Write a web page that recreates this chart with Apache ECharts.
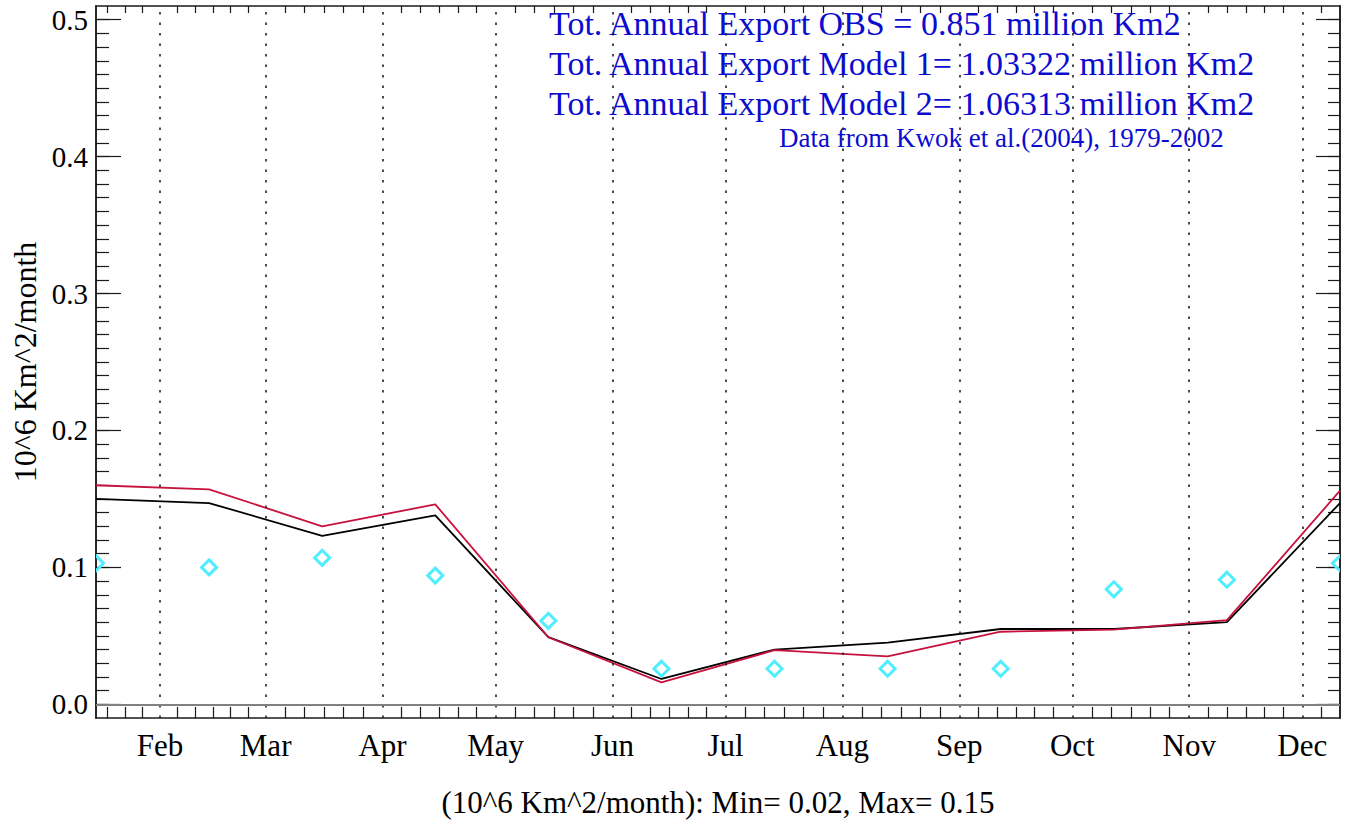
<!DOCTYPE html>
<html>
<head>
<meta charset="utf-8">
<script src="https://cdn.jsdelivr.net/npm/echarts@6/dist/echarts.min.js"></script>
<style>
  html, body { margin: 0; padding: 0; background: #ffffff; }
  #chart { width: 1351px; height: 825px; }
</style>
</head>
<body>
<div id="chart"></div>
<script>
// Month labels and the day-of-year (0-based) on which each month starts
const monthNames = ['Feb', 'Mar', 'Apr', 'May', 'Jun', 'Jul', 'Aug', 'Sep', 'Oct', 'Nov', 'Dec'];
const monthStartDays = [31, 59, 90, 120, 151, 181, 212, 243, 273, 304, 334];

// Monthly sample positions (day of year), one per month Jan..Dec
const sampleDays = [14, 44, 74, 104, 134, 164, 194, 224, 254, 284, 314, 344];

// Monthly ice-area export, 10^6 km^2 / month
const model1Export = [0.150, 0.147, 0.123, 0.138, 0.049, 0.0185, 0.040, 0.045, 0.055, 0.055, 0.060, 0.147];
const model2Export = [0.160, 0.157, 0.130, 0.146, 0.049, 0.016, 0.0395, 0.035, 0.053, 0.0545, 0.0615, 0.156];
const obsExport    = [0.103, 0.100, 0.107, 0.094, 0.061, 0.026, 0.026, 0.026, 0.026, 0.084, 0.091, 0.103];

// Y tick labels
const yTickValues = [0.0, 0.1, 0.2, 0.3, 0.4, 0.5];

const X_MIN = 14, X_MAX = 344;
const Y_MIN = -0.01, Y_MAX = 0.51;

// Minor x ticks: each month split into six parts, extended past the first/last month start
const xMinorTicks = [];
(function () {
  const n = monthStartDays.length;
  const stepFirst = (monthStartDays[1] - monthStartDays[0]) / 6;
  for (let k = 1; monthStartDays[0] - k * stepFirst >= X_MIN - 1e-9; k++) {
    xMinorTicks.push(monthStartDays[0] - k * stepFirst);
  }
  for (let i = 0; i < n - 1; i++) {
    const a = monthStartDays[i], b = monthStartDays[i + 1];
    for (let k = 1; k < 6; k++) xMinorTicks.push(a + k * (b - a) / 6);
  }
  const stepLast = (monthStartDays[n - 1] - monthStartDays[n - 2]) / 6;
  for (let k = 1; monthStartDays[n - 1] + k * stepLast < X_MAX - 1e-9; k++) {
    xMinorTicks.push(monthStartDays[n - 1] + k * stepLast);
  }
})();

// Minor y ticks every 0.01
const yMinorTicks = [];
for (let k = 0; k <= 50; k++) yMinorTicks.push(k / 100);

const pairs = (vals) => sampleDays.map((d, i) => [d, vals[i]]);

const FONT = '"Liberation Serif", "DejaVu Serif", serif';
const TEXT_BLUE = '#0c0cd0';

const chart = echarts.init(document.getElementById('chart'), null, { renderer: 'svg' });

const baseX = {
  type: 'value', min: X_MIN, max: X_MAX,
  splitLine: { show: false },
  axisLine: { show: true, onZero: false, lineStyle: { color: '#1a1a1a', width: 1.5 } }
};
const baseY = {
  type: 'value', min: Y_MIN, max: Y_MAX,
  splitLine: { show: false },
  axisLabel: { show: false },
  axisLine: { show: true, onZero: false, lineStyle: { color: '#1a1a1a', width: 1.5 } }
};

chart.setOption({
  animation: false,
  backgroundColor: '#ffffff',
  grid: { left: 96, right: 11, top: 6, bottom: 107, outerBoundsMode: 'none', containLabel: false },
  xAxis: [
    Object.assign({}, baseX, {
      position: 'bottom',
      name: '(10^6 Km^2/month): Min= 0.02, Max= 0.15',
      nameLocation: 'middle',
      nameGap: 84,
      nameTextStyle: { fontFamily: FONT, fontSize: 31, color: '#000', verticalAlign: 'middle' },
      axisTick: { show: true, inside: true, length: 11, customValues: xMinorTicks,
                  lineStyle: { color: '#1a1a1a', width: 1.2 } },
      axisLabel: {
        show: true, customValues: monthStartDays, margin: 27, verticalAlign: 'middle',
        fontFamily: FONT, fontSize: 31, color: '#000',
        formatter: (v) => monthNames[monthStartDays.indexOf(Math.round(v))] || ''
      }
    }),
    Object.assign({}, baseX, {
      position: 'top',
      axisTick: { show: true, inside: true, length: 7, customValues: xMinorTicks,
                  lineStyle: { color: '#1a1a1a', width: 1.2 } },
      axisLabel: { show: false }
    })
  ],
  yAxis: [
    Object.assign({}, baseY, {
      position: 'left',
      name: '10^6 Km^2/month',
      nameLocation: 'middle',
      nameGap: 70,
      nameRotate: 90,
      nameTextStyle: { fontFamily: FONT, fontSize: 32, color: '#000', verticalAlign: 'middle', align: 'center' },
      axisTick: { show: true, inside: true, length: 25, customValues: yTickValues,
                  lineStyle: { color: '#1a1a1a', width: 1.2 } },
      axisLabel: {
        show: true, customValues: yTickValues, margin: 8,
        fontFamily: FONT, fontSize: 29, color: '#000',
        formatter: (v) => v.toFixed(1)
      }
    }),
    Object.assign({}, baseY, {
      position: 'left',
      axisTick: { show: true, inside: true, length: 13, customValues: yMinorTicks,
                  lineStyle: { color: '#1a1a1a', width: 1.2 } }
    }),
    Object.assign({}, baseY, {
      position: 'right',
      axisTick: { show: true, inside: true, length: 24, customValues: yTickValues,
                  lineStyle: { color: '#1a1a1a', width: 1.2 } }
    }),
    Object.assign({}, baseY, {
      position: 'right',
      axisTick: { show: true, inside: true, length: 12, customValues: yMinorTicks,
                  lineStyle: { color: '#1a1a1a', width: 1.2 } }
    })
  ],
  series: [
    {
      name: 'Model 1',
      type: 'line',
      data: pairs(model1Export),
      showSymbol: false,
      lineStyle: { color: '#000000', width: 1.8 },
      silent: true,
      z: 3,
      markLine: {
        silent: true, symbol: 'none', label: { show: false },
        lineStyle: { color: '#222', width: 1.6, type: [2.5, 8] },
        data: monthStartDays.map((d) => ({ xAxis: d }))
      }
    },
    {
      name: 'Model 2',
      type: 'line',
      data: pairs(model2Export),
      showSymbol: false,
      lineStyle: { color: '#c8123e', width: 1.8 },
      silent: true,
      z: 4,
      markLine: {
        silent: true, symbol: 'none', label: { show: false },
        lineStyle: { color: '#808080', width: 2, type: 'solid' },
        data: [{ yAxis: 0 }]
      }
    },
    {
      name: 'OBS',
      type: 'custom',
      data: pairs(obsExport),
      clip: true,
      silent: true,
      z: 5,
      renderItem: function (params, api) {
        const p = api.coord([api.value(0), api.value(1)]);
        const r = 7.5;
        return {
          type: 'polygon',
          shape: { points: [[p[0], p[1] - r], [p[0] + r, p[1]], [p[0], p[1] + r], [p[0] - r, p[1]]] },
          style: { fill: 'none', stroke: '#4eeeff', lineWidth: 3 }
        };
      }
    }
  ],
  graphic: [
    { type: 'text', x: 549, y: 23, silent: true,
      style: { text: 'Tot. Annual Export OBS = 0.851 million Km2', font: '34px ' + FONT, fill: TEXT_BLUE, textVerticalAlign: 'middle' } },
    { type: 'text', x: 549, y: 63, silent: true,
      style: { text: 'Tot. Annual Export Model 1= 1.03322 million Km2', font: '34px ' + FONT, fill: TEXT_BLUE, textVerticalAlign: 'middle' } },
    { type: 'text', x: 549, y: 103, silent: true,
      style: { text: 'Tot. Annual Export Model 2= 1.06313 million Km2', font: '34px ' + FONT, fill: TEXT_BLUE, textVerticalAlign: 'middle' } },
    { type: 'text', x: 779, y: 138, silent: true,
      style: { text: 'Data from Kwok et al.(2004), 1979-2002', font: '27px ' + FONT, fill: TEXT_BLUE, textVerticalAlign: 'middle' } }
  ]
});
</script>
</body>
</html>
